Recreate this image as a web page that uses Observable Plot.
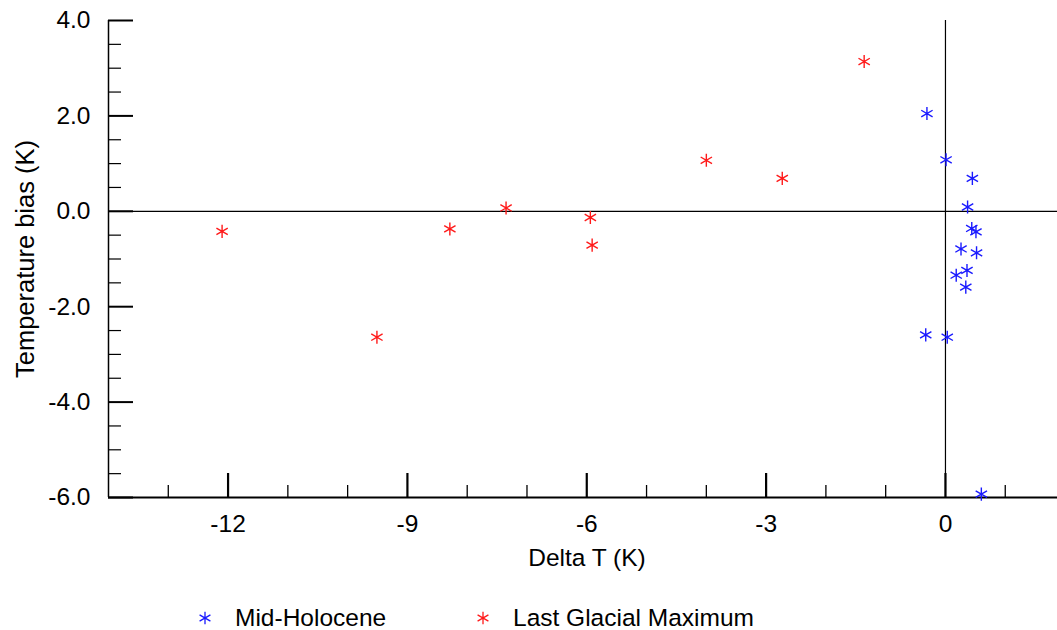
<!DOCTYPE html>
<html>
<head>
<meta charset="utf-8">
<script src="https://cdn.jsdelivr.net/npm/d3@7"></script>
<script src="https://cdn.jsdelivr.net/npm/@observablehq/plot@0.6"></script>
<style>
  html, body { margin: 0; padding: 0; background: #fff; }
  #wrap { position: relative; width: 1057px; height: 630px; overflow: hidden; font-family: "Liberation Sans", Arial, Helvetica, sans-serif; }
  #legend { position: absolute; left: 0; top: 606px; width: 1057px; height: 24px; }
  .item { position: absolute; top: 0; height: 24px; display: flex; align-items: center; font-size: 24.5px; line-height: 24px; color: #000; }
  .item svg { margin-right: 22px; }
</style>
</head>
<body>
<div id="wrap">
  <div id="chart"></div>
  <div id="legend"></div>
</div>
<script>
// Mid-Holocene (blue)
const mhX = [-0.31, 0.01, 0.45, 0.37, 0.44, 0.51, 0.26, 0.52, 0.36, 0.18, 0.34, -0.33, 0.03, 0.60];
const mhY = [2.05, 1.08, 0.69, 0.09, -0.36, -0.43, -0.79, -0.87, -1.24, -1.34, -1.59, -2.59, -2.64, -5.93];
// Last Glacial Maximum (red)
const lgmX = [-12.10, -9.51, -8.29, -7.35, -5.94, -5.91, -4.00, -2.73, -1.36];
const lgmY = [-0.42, -2.64, -0.37, 0.07, -0.13, -0.71, 1.07, 0.69, 3.14];

const seriesNames = ["Mid-Holocene", "Last Glacial Maximum"];
const seriesColors = ["#1a1aff", "#ff1a1a"];

const xMajorTicks = [-12, -9, -6, -3, 0];
const xMinorTicks = [-13, -11, -10, -8, -7, -5, -4, -2, -1, 1];
const yMajorTicks = [-6, -4, -2, 0, 2, 4];
const yMinorTicks = [-5.5, -5, -4.5, -3.5, -3, -2.5, -1.5, -1, -0.5, 0.5, 1, 1.5, 2.5, 3, 3.5];

const xDomain = [-14, 1.874];
const yDomain = [-6, 4];
const xLabel = "Delta T (K)";
const yLabel = "Temperature bias (K)";

const mh = mhX.map((x, i) => ({x, y: mhY[i]}));
const lgm = lgmX.map((x, i) => ({x, y: lgmY[i]}));

const W = 1057, H = 590, mT = 20, mB = 93, mL = 108, mR = 0;
const innerH = H - mT - mB, innerW = W - mL - mR;

const chart = Plot.plot({
  width: W,
  height: H,
  marginTop: mT,
  marginBottom: mB,
  marginLeft: mL,
  marginRight: mR,
  style: {fontFamily: '"Liberation Sans", Arial, Helvetica, sans-serif', fontSize: "24px", color: "#000", background: "#fff", overflow: "visible"},
  x: {domain: xDomain, axis: null},
  y: {domain: yDomain, axis: null},
  marks: [
    // zero lines
    Plot.ruleY([0], {stroke: "#000", strokeWidth: 1.2}),
    Plot.ruleX([0], {stroke: "#000", strokeWidth: 1.2}),
    // axis lines
    Plot.ruleY([yDomain[0]], {stroke: "#000", strokeWidth: 1.8}),
    Plot.ruleX([xDomain[0]], {stroke: "#000", strokeWidth: 1.5}),
    // x ticks (inward)
    Plot.ruleX(xMajorTicks, {stroke: "#000", strokeWidth: 2.2, insetTop: innerH - 24}),
    Plot.ruleX(xMinorTicks, {stroke: "#000", strokeWidth: 1.3, insetTop: innerH - 12}),
    // y ticks (inward)
    Plot.ruleY(yMajorTicks, {stroke: "#000", strokeWidth: 2, insetRight: innerW - 25}),
    Plot.ruleY(yMinorTicks, {stroke: "#000", strokeWidth: 1.2, insetRight: innerW - 13}),
    // tick labels
    Plot.axisX({ticks: xMajorTicks, tickSize: 0, tickPadding: 17, label: null, fontSize: 24.5, tickFormat: d => String(d)}),
    Plot.axisY({ticks: yMajorTicks, tickSize: 0, tickPadding: 18, label: null, fontSize: 24.5, tickFormat: d => d.toFixed(1)}),
    // axis titles
    Plot.text([xLabel], {frameAnchor: "bottom", dy: 61, dx: 4, fontSize: 24.5, fill: "#000", lineAnchor: "middle", textAnchor: "middle"}),
    Plot.text([yLabel], {frameAnchor: "left", dx: -83, rotate: -90, fontSize: 25.5, fill: "#000", lineAnchor: "middle", textAnchor: "middle"}),
    // data
    Plot.dot(lgm, {x: "x", y: "y", symbol: "asterisk", r: 6.2, stroke: seriesColors[1], strokeWidth: 1.4, clip: false}),
    Plot.dot(mh, {x: "x", y: "y", symbol: "asterisk", r: 6.2, stroke: seriesColors[0], strokeWidth: 1.4, clip: false})
  ]
});
document.getElementById("chart").appendChild(chart);

// legend
const legend = document.getElementById("legend");
const legendLefts = [197, 475];
seriesNames.forEach((name, i) => {
  const item = document.createElement("div");
  item.className = "item";
  item.style.left = legendLefts[i] + "px";
  const s = d3.create("svg").attr("width", 16).attr("height", 16);
  s.append("path")
    .attr("transform", "translate(8,8)")
    .attr("d", d3.symbol(d3.symbolAsterisk, 110)())
    .attr("fill", "none")
    .attr("stroke", seriesColors[i])
    .attr("stroke-width", 1.3);
  item.appendChild(s.node());
  const t = document.createElement("span");
  t.textContent = name;
  item.appendChild(t);
  legend.appendChild(item);
});
</script>
</body>
</html>
